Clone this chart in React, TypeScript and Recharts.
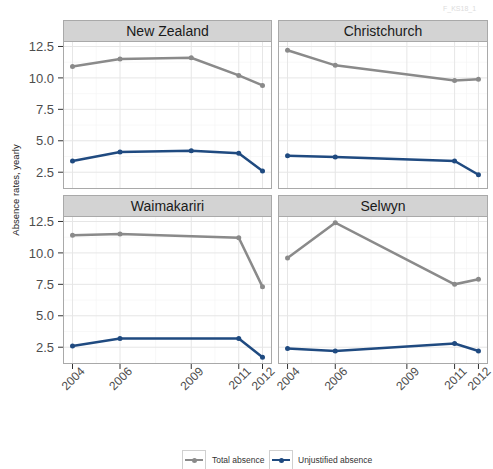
import React from 'react';
import { LineChart, Line, XAxis, YAxis, CartesianGrid } from 'recharts';

const years = [2004, 2006, 2009, 2011, 2012];
const yTicks = [2.5, 5.0, 7.5, 10.0, 12.5];
const xMinor = [2005, 2007.5, 2010, 2011.5];
const yMinor = [3.75, 6.25, 8.75, 11.25];

const nzTotal = [10.9, 11.5, 11.6, 10.2, 9.4];
const nzUnjustified = [3.4, 4.1, 4.2, 4.0, 2.6];
const chchTotal = [12.2, 11.0, null, 9.8, 9.9];
const chchUnjustified = [3.8, 3.7, null, 3.4, 2.3];
const waimaTotal = [11.4, 11.5, null, 11.2, 7.3];
const waimaUnjustified = [2.6, 3.2, null, 3.2, 1.7];
const selwynTotal = [9.6, 12.4, null, 7.5, 7.9];
const selwynUnjustified = [2.4, 2.2, null, 2.8, 2.2];

const FONT = '"Liberation Sans", Arial, sans-serif';
const TOTAL = '#8a8a8a';
const UNJUST = '#1f4a80';
const BORDER = '#a9a9a9';

const X_DOMAIN: [number, number] = [2003.6, 2012.4];
const Y_DOMAIN: [number, number] = [1.165, 12.935];
const PLOT_H = 148;
const Y_AXIS_W = 63;

const XTick = (props: any) => {
  const { x, y, payload } = props;
  return (
    <g transform={`translate(${x},${y})`}>
      <text
        x={0}
        y={0}
        textAnchor="end"
        transform="translate(13,1) rotate(-45)"
        fontSize={12}
        fill="#4d4d4d"
        fontFamily={FONT}
      >
        {payload.value}
      </text>
    </g>
  );
};

function Panel(props: {
  title: string;
  total: (number | null)[];
  unjust: (number | null)[];
  left: number;
  top: number;
  width: number;
  showX: boolean;
  showY: boolean;
}) {
  const { title, total, unjust, left, top, width, showX, showY } = props;
  const data = years.map((year, i) => ({ year, total: total[i], unjust: unjust[i] }));
  const chartW = width + (showY ? Y_AXIS_W : 0);
  const chartH = PLOT_H + (showX ? 50 : 0);

  return (
    <>
      <div
        style={{
          position: 'absolute',
          left,
          top: top - 21,
          width,
          height: 22,
          boxSizing: 'border-box',
          background: '#d3d3d3',
          border: `1px solid ${BORDER}`,
          fontFamily: FONT,
          fontSize: 14,
          color: '#1a1a1a',
          display: 'flex',
          alignItems: 'center',
          justifyContent: 'center',
        }}
      >
        {title}
      </div>
      <div style={{ position: 'absolute', left: showY ? left - Y_AXIS_W : left, top }}>
        <LineChart width={chartW} height={chartH} data={data} margin={{ top: 0, right: 0, bottom: 0, left: 0 }}>
          <CartesianGrid horizontalValues={yMinor} verticalValues={xMinor} stroke="#f3f3f3" strokeWidth={0.6} />
          <CartesianGrid horizontalValues={yTicks} verticalValues={years} stroke="#e6e6e6" strokeWidth={1} />
          <XAxis
            type="number"
            dataKey="year"
            domain={X_DOMAIN}
            ticks={years}
            interval={0}
            hide={!showX}
            height={50}
            axisLine={false}
            tickSize={5}
            tickLine={{ stroke: '#333' }}
            tick={<XTick />}
          />
          <YAxis
            type="number"
            domain={Y_DOMAIN}
            ticks={yTicks}
            interval={0}
            hide={!showY}
            width={Y_AXIS_W}
            axisLine={false}
            tickSize={5}
            tickMargin={4}
            tickLine={{ stroke: '#333' }}
            tickFormatter={(v: number) => v.toFixed(1)}
            tick={{ fill: '#4d4d4d', fontSize: 13, fontFamily: FONT }}
          />
          <Line
            dataKey="total"
            stroke={TOTAL}
            strokeWidth={2.5}
            dot={{ r: 2.5, fill: TOTAL, stroke: TOTAL, strokeWidth: 0 }}
            connectNulls
            isAnimationActive={false}
          />
          <Line
            dataKey="unjust"
            stroke={UNJUST}
            strokeWidth={2.5}
            dot={{ r: 2.5, fill: UNJUST, stroke: UNJUST, strokeWidth: 0 }}
            connectNulls
            isAnimationActive={false}
          />
        </LineChart>
      </div>
      <div
        style={{
          position: 'absolute',
          left,
          top,
          width,
          height: PLOT_H,
          boxSizing: 'border-box',
          border: `1px solid ${BORDER}`,
          pointerEvents: 'none',
        }}
      />
    </>
  );
}

const LegendKey = ({ color, left }: { color: string; left: number }) => (
  <div
    style={{
      position: 'absolute',
      left,
      top: 450,
      width: 24,
      height: 20,
      boxSizing: 'border-box',
      border: '1px solid #d0d0d0',
      background: '#fff',
    }}
  >
    <div style={{ position: 'absolute', left: 2, right: 2, top: 8, height: 2, background: color }} />
    <div style={{ position: 'absolute', left: 9, top: 6.5, width: 5, height: 5, borderRadius: 3, background: color }} />
  </div>
);

export default function App() {
  return (
    <div
      style={{
        position: 'absolute',
        left: 0,
        top: 0,
        width: 493,
        height: 469,
        overflow: 'hidden',
        background: '#fff',
        fontFamily: FONT,
      }}
    >
      <style>{'.recharts-surface, .recharts-wrapper { overflow: visible !important; }'}</style>
      <div style={{ position: 'absolute', left: 443, top: 5, fontSize: 7, color: '#dcdcdc' }}>F_KS18_1</div>
      <Panel title="New Zealand" total={nzTotal} unjust={nzUnjustified} left={63} top={41} width={209} showX={false} showY />
      <Panel title="Christchurch" total={chchTotal} unjust={chchUnjustified} left={278} top={41} width={210} showX={false} showY={false} />
      <Panel title="Waimakariri" total={waimaTotal} unjust={waimaUnjustified} left={63} top={216} width={209} showX showY />
      <Panel title="Selwyn" total={selwynTotal} unjust={selwynUnjustified} left={278} top={216} width={210} showX showY={false} />
      <div
        style={{
          position: 'absolute',
          left: 15,
          top: 190,
          transform: 'translate(-50%, -50%) rotate(-90deg)',
          whiteSpace: 'nowrap',
          fontSize: 9.5,
          color: '#1a1a1a',
        }}
      >
        Absence rates, yearly
      </div>
      <LegendKey color={TOTAL} left={182} />
      <div style={{ position: 'absolute', left: 212, top: 455, fontSize: 8.5, color: '#333' }}>Total absence</div>
      <LegendKey color={UNJUST} left={269} />
      <div style={{ position: 'absolute', left: 298, top: 455, fontSize: 8.5, color: '#333' }}>Unjustified absence</div>
    </div>
  );
}
